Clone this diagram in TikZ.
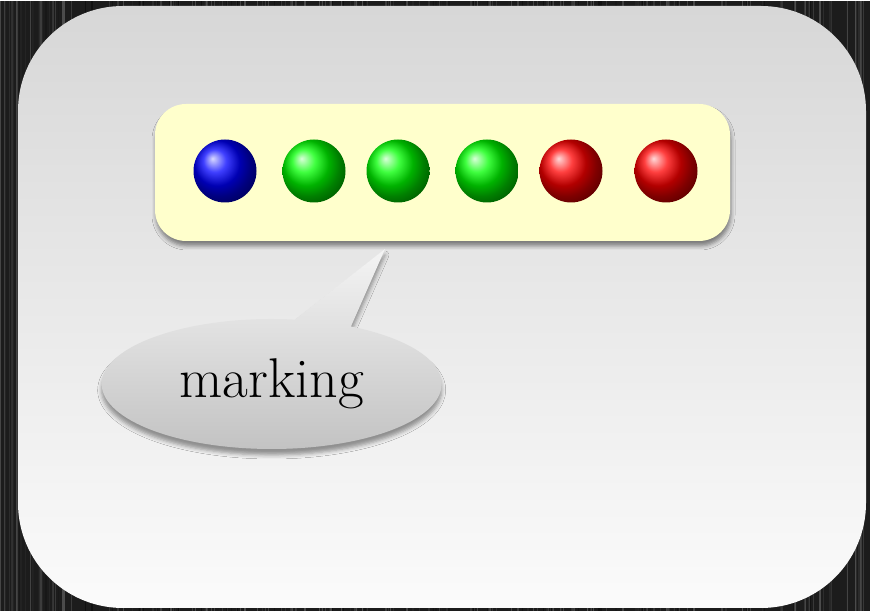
\documentclass[tikz,border=0pt]{standalone}
\usetikzlibrary{shapes.callouts,shadows.blur}
\definecolor{wooddark}{HTML}{1C1C1C}
\definecolor{cardtop}{HTML}{D7D7D7}
\definecolor{cardbot}{HTML}{FBFBFB}
\definecolor{markfill}{HTML}{FFFFCC}
\definecolor{calltop}{HTML}{F4F4F4}
\definecolor{callbot}{HTML}{C2C2C2}
\begin{document}
\begin{tikzpicture}[x=1pt,y=1pt,
  ball/.style={circle, minimum size=63pt, inner sep=0pt, shading=ball},
  markbox/.style={rectangle, rounded corners=31pt, fill=markfill,
    minimum width=575pt, minimum height=137pt, inner sep=0pt,
    blur shadow={shadow xshift=1pt, shadow yshift=-5pt, shadow blur radius=4pt, shadow opacity=45}},
  callbox/.style={ellipse callout, top color=calltop, bottom color=callbot,
    minimum width=340pt, minimum height=130pt, inner sep=0pt,
    callout pointer arc=20,
    blur shadow={shadow xshift=0pt, shadow yshift=-6pt, shadow blur radius=4pt, shadow opacity=40},
    font=\fontsize{56}{60}\selectfont}]
% wood background
\fill[wooddark] (0,0) rectangle (870,610);
\pgfmathsetseed{11}
\foreach \i in {1,...,260}{
  \pgfmathsetmacro{\xx}{rnd*870}
  \pgfmathsetmacro{\gg}{5+rnd*30}
  \pgfmathsetmacro{\ww}{0.4+rnd*1.6}
  \draw[line width=\ww pt, white!\gg!black, opacity=0.8] (\xx,0) -- (\xx,610);
}
\useasboundingbox (0,0) rectangle (870,610);
% card
\shade[top color=cardtop, bottom color=cardbot, rounded corners=105pt]
  (18,3) rectangle (866,605);
% marking box
\node[markbox] (mk) at (442.5,438.5) {};
\node[ball, ball color=blue]  (p1) at (225,440) {};
\node[ball, ball color=green] (p2) at (314,440) {};
\node[ball, ball color=green] (p3) at (398,440) {};
\node[ball, ball color=green] (p4) at (487,440) {};
\node[ball, ball color=red]   (p5) at (571,440) {};
\node[ball, ball color=red]   (p6) at (666,440) {};
% callout
\coordinate (tip) at (385,362);
\node[callbox, callout absolute pointer=(tip)] (lbl) at (271.7,227) {marking};
\end{tikzpicture}
\end{document}
